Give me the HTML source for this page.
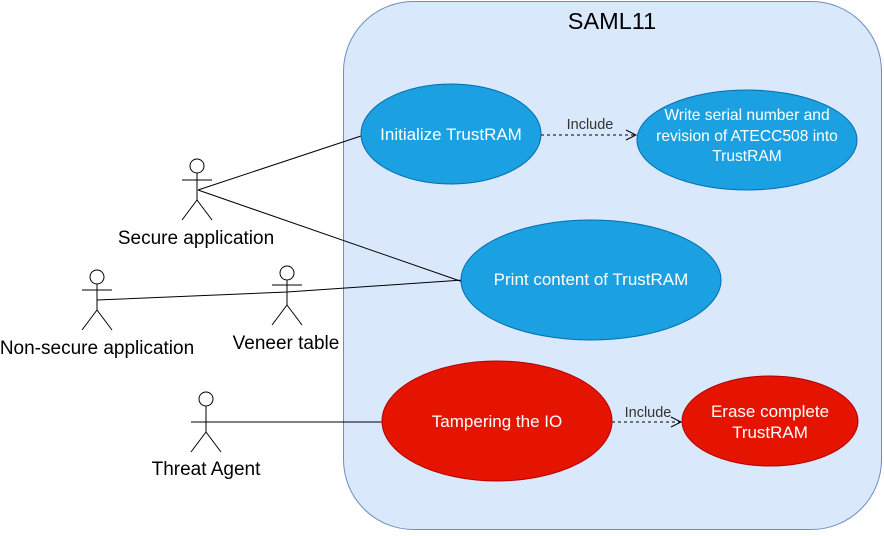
<!DOCTYPE html>
<html><head><style>body{margin:0;background:#fff}</style></head><body>
<svg width="884" height="531" xmlns="http://www.w3.org/2000/svg" font-family="Liberation Sans, Arial, sans-serif">
<rect x="343.5" y="1.5" width="538" height="528" rx="70" fill="#dae8fc" stroke="#6c8ebf"/>
<text x="612" y="29" font-size="23.5" text-anchor="middle" fill="#000">SAML11</text>
<g stroke="#000" stroke-width="1" fill="none">
<line x1="198" y1="190" x2="361" y2="136"/>
<line x1="198" y1="190" x2="463" y2="282"/>
<polyline points="97,300 287,292 463,280"/>
<line x1="206" y1="422" x2="382" y2="422"/>
</g>
<g stroke="#000" stroke-width="1" stroke-dasharray="3,3" fill="none">
<line x1="541" y1="135" x2="635" y2="135"/>
<line x1="612" y1="422" x2="680" y2="422"/>
</g>
<g stroke="#000" fill="none">
<polyline points="626,130 636,135 626,140"/>
<polyline points="671,417 681,422 671,427"/>
</g>
<g font-size="14.5" fill="#333" text-anchor="middle">
<text x="590" y="129">Include</text>
<text x="648" y="417">Include</text>
</g>
<ellipse cx="451" cy="134" rx="90" ry="50" fill="#1ba1e2" stroke="#006eaf"/>
<ellipse cx="747" cy="140" rx="110" ry="50" fill="#1ba1e2" stroke="#006eaf"/>
<ellipse cx="591" cy="280" rx="130" ry="60" fill="#1ba1e2" stroke="#006eaf"/>
<ellipse cx="497" cy="421" rx="115" ry="60" fill="#e51400" stroke="#b20000"/>
<ellipse cx="770" cy="421" rx="88" ry="45" fill="#e51400" stroke="#b20000"/>
<g font-size="17" fill="#fff" text-anchor="middle">
<text x="451" y="140">Initialize TrustRAM</text>
<text x="747" y="120" font-size="15.6">Write serial number and</text>
<text x="747" y="141" font-size="15.6">revision of ATECC508 into</text>
<text x="747" y="161" font-size="15.6">TrustRAM</text>
<text x="591" y="285">Print content of TrustRAM</text>
<text x="497" y="427">Tampering the IO</text>
<text x="770" y="417">Erase complete</text>
<text x="770" y="438">TrustRAM</text>
</g>
<g stroke="#000" fill="#fff">
<g transform="translate(197,159)"><circle cx="0" cy="7" r="7"/><line x1="0" y1="14" x2="0" y2="41"/><line x1="-15" y1="21" x2="15" y2="21"/><line x1="0" y1="41" x2="-15" y2="61"/><line x1="0" y1="41" x2="15" y2="61"/></g>
<g transform="translate(287,266)"><circle cx="0" cy="7" r="7"/><line x1="0" y1="14" x2="0" y2="39"/><line x1="-15" y1="19" x2="15" y2="19"/><line x1="0" y1="39" x2="-15" y2="59"/><line x1="0" y1="39" x2="15" y2="59"/></g>
<g transform="translate(97,270)"><circle cx="0" cy="7" r="7"/><line x1="0" y1="14" x2="0" y2="40"/><line x1="-15" y1="20" x2="15" y2="20"/><line x1="0" y1="40" x2="-15" y2="60"/><line x1="0" y1="40" x2="15" y2="60"/></g>
<g transform="translate(206,392)"><circle cx="0" cy="7" r="7"/><line x1="0" y1="14" x2="0" y2="40"/><line x1="-15" y1="30" x2="15" y2="30"/><line x1="0" y1="40" x2="-15" y2="60"/><line x1="0" y1="40" x2="15" y2="60"/></g>
</g>
<g font-size="19" fill="#000" text-anchor="middle">
<text x="196" y="244">Secure application</text>
<text x="97" y="354">Non-secure application</text>
<text x="286" y="349">Veneer table</text>
<text x="206" y="475">Threat Agent</text>
</g>
</svg>
</body></html>
